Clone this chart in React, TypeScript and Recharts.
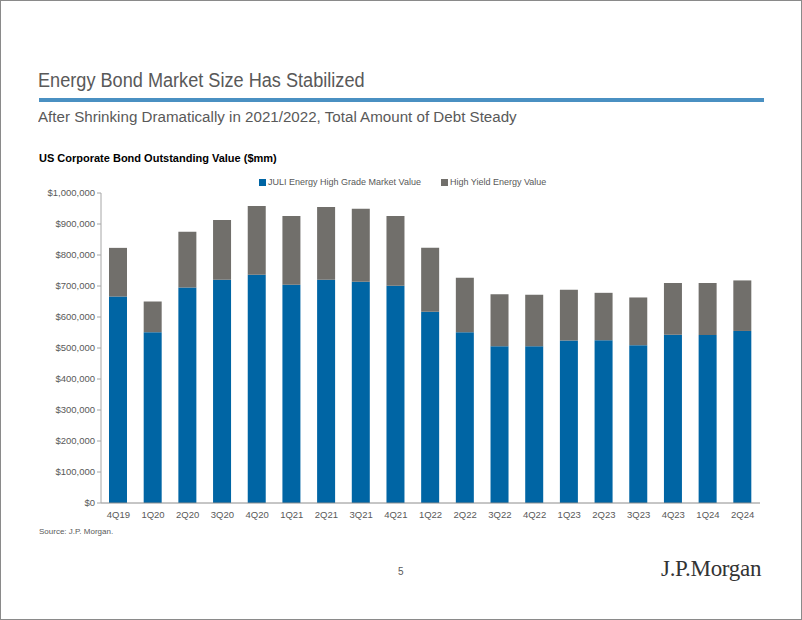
import { BarChart, Bar, XAxis, YAxis } from "recharts"

// 분기 라벨
const quarters = [
  "4Q19", "1Q20", "2Q20", "3Q20", "4Q20", "1Q21", "2Q21", "3Q21", "4Q21", "1Q22",
  "2Q22", "3Q22", "4Q22", "1Q23", "2Q23", "3Q23", "4Q23", "1Q24", "2Q24",
]

// JULI Energy High Grade ($mm)
const highGrade = [
  666000, 551000, 695000, 720000, 736000, 704000, 720000, 714000, 701000, 617000,
  551000, 506000, 506000, 524000, 525000, 509000, 543000, 542000, 555000,
]

// High Yield Energy ($mm)
const highYield = [
  157000, 99000, 180000, 193000, 222000, 222000, 235000, 235000, 225000, 206000,
  176000, 167000, 166000, 164000, 153000, 154000, 167000, 168000, 163000,
]

const yTicks = [0, 100000, 200000, 300000, 400000, 500000, 600000, 700000, 800000, 900000, 1000000]

const BLUE = "#0065a4"
const GRAY = "#716f6b"
const TEXT = "#595959"
const FONT = "'Liberation Sans', Arial, sans-serif"

const chartData = quarters.map((q, i) => ({
  quarter: q,
  highGrade: highGrade[i],
  highYield: highYield[i],
}))

const formatUsd = (v: number) => "$" + v.toLocaleString("en-US")

function LegendItem({ color, label }: { color: string; label: string }) {
  return (
    <span style={{ display: "inline-flex", alignItems: "center", marginRight: 20 }}>
      <span style={{ width: 7, height: 7, background: color, marginRight: 2, display: "inline-block" }} />
      {label}
    </span>
  )
}

export default function App() {
  return (
    <div
      style={{
        position: "fixed",
        left: 0,
        top: 0,
        width: 802,
        height: 620,
        boxSizing: "border-box",
        border: "1px solid #8a8a8a",
        background: "#fff",
        fontFamily: FONT,
        overflow: "hidden",
      }}
    >
      <div
        style={{
          position: "absolute",
          left: 37,
          top: 68,
          fontSize: 19.5,
          color: TEXT,
          whiteSpace: "nowrap",
          transform: "scaleX(0.93)",
          transformOrigin: "left top",
        }}
      >
        Energy Bond Market Size Has Stabilized
      </div>
      <div style={{ position: "absolute", left: 38, top: 97, width: 725, height: 4, background: "#4a90c2" }} />
      <div
        style={{
          position: "absolute",
          left: 37,
          top: 107,
          fontSize: 15.5,
          color: TEXT,
          whiteSpace: "nowrap",
          transform: "scaleX(0.977)",
          transformOrigin: "left top",
        }}
      >
        After Shrinking Dramatically in 2021/2022, Total Amount of Debt Steady
      </div>
      <div style={{ position: "absolute", left: 38, top: 151, fontSize: 11, fontWeight: "bold", color: "#000" }}>
        US Corporate Bond Outstanding Value ($mm)
      </div>

      <div style={{ position: "absolute", left: 258, top: 176, fontSize: 9, color: TEXT, whiteSpace: "nowrap" }}>
        <LegendItem color={BLUE} label="JULI Energy High Grade Market Value" />
        <LegendItem color={GRAY} label="High Yield Energy Value" />
      </div>

      <div style={{ position: "absolute", left: 0, top: 170 }}>
        <BarChart
          width={802}
          height={360}
          data={chartData}
          margin={{ top: 22, right: 43, left: 0, bottom: 0 }}
          barSize={18}
        >
          <XAxis
            dataKey="quarter"
            interval={0}
            tickLine={false}
            tickSize={0}
            tickMargin={8}
            height={28}
            axisLine={{ stroke: "#8c8c8c" }}
            tick={{ fontSize: 9.5, fill: TEXT, fontFamily: FONT }}
          />
          <YAxis
            width={100}
            domain={[0, 1000000]}
            ticks={yTicks}
            interval={0}
            tickFormatter={formatUsd}
            tickSize={4}
            tickMargin={2}
            axisLine={{ stroke: "#a6a6a6" }}
            tickLine={{ stroke: "#a6a6a6" }}
            tick={{ fontSize: 9.5, fill: TEXT, fontFamily: FONT }}
          />
          <Bar dataKey="highGrade" stackId="a" fill={BLUE} isAnimationActive={false} />
          <Bar dataKey="highYield" stackId="a" fill={GRAY} isAnimationActive={false} />
        </BarChart>
      </div>

      <div style={{ position: "absolute", left: 38, top: 526, fontSize: 8, color: TEXT }}>Source: J.P. Morgan.</div>
      <div style={{ position: "absolute", left: 397, top: 565, fontSize: 10, color: TEXT }}>5</div>
      <div
        style={{
          position: "absolute",
          left: 660,
          top: 555,
          fontSize: 23,
          color: "#333",
          fontFamily: "'Liberation Serif', 'Times New Roman', serif",
          letterSpacing: -0.3,
        }}
      >
        J.P.Morgan
      </div>
    </div>
  )
}
